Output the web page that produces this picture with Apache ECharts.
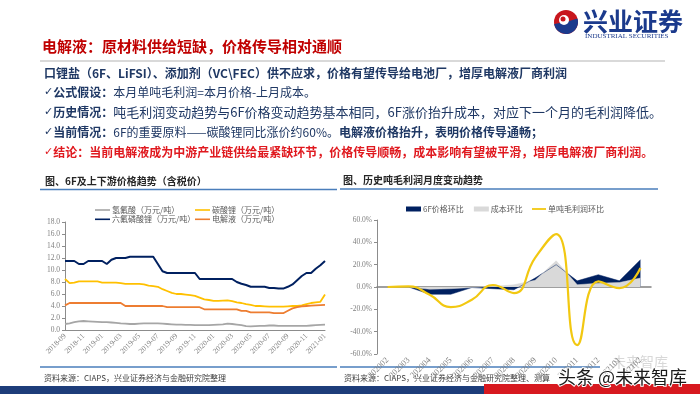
<!DOCTYPE html>
<html><head><meta charset="utf-8">
<script src="https://cdn.jsdelivr.net/npm/echarts@6/dist/echarts.min.js"></script>
<style>html,body{margin:0;padding:0;background:#fff}#c{width:700px;height:394px}</style>
</head><body><div id="c"></div>
<script>
// ---- Left chart: 6F and upstream/downstream prices (万元/吨), half-monthly ----
const priceDates = [
 '2018-09-01','2018-09-16','2018-10-01','2018-10-16','2018-11-01','2018-11-16','2018-12-01','2018-12-16',
 '2019-01-01','2019-01-16','2019-02-01','2019-02-16','2019-03-01','2019-03-16','2019-04-01','2019-04-16',
 '2019-05-01','2019-05-16','2019-06-01','2019-06-16','2019-07-01','2019-07-16','2019-08-01','2019-08-16',
 '2019-09-01','2019-09-16','2019-10-01','2019-10-16','2019-11-01','2019-11-16','2019-12-01','2019-12-16',
 '2020-01-01','2020-01-16','2020-02-01','2020-02-16','2020-03-01','2020-03-16','2020-04-01','2020-04-16',
 '2020-05-01','2020-05-16','2020-06-01','2020-06-16','2020-07-01','2020-07-16','2020-08-01','2020-08-16',
 '2020-09-01','2020-09-16','2020-10-01','2020-10-16','2020-11-01','2020-11-16','2020-12-01','2020-12-16',
 '2021-01-01'];
const hfAcid = [1.0,1.1,1.3,1.45,1.5,1.45,1.4,1.35,1.3,1.3, 1.25,1.2,1.1,1.05,1.0,1.0,1.05,1.1,1.1,1.1,
 1.1,1.05,1.0,0.95,0.9,0.9,0.85,0.85,0.8,0.8, 0.8,0.8,0.85,0.9,0.95,1.05,1.0,0.9,0.8,0.65,
 0.6,0.65,0.7,0.7,0.75,0.75,0.7,0.7,0.7,0.7, 0.7,0.7,0.7,0.75,0.8,0.85,0.9];
const lipf6 = [11.5,11.5,11.5,11.0,11.0,11.5,11.5,11.5,11.5,11.0, 11.7,12.0,12.0,12.0,12.2,12.2,12.2,12.2,12.2,12.2,
 11.0,9.8,9.5,9.5,9.5,9.5,9.5,9.5,9.5,8.5, 8.5,8.5,8.5,8.5,8.5,8.5,8.5,8.0,7.7,7.5,
 7.2,7.2,7.2,7.2,7.0,7.0,6.9,6.9,7.2,7.6, 8.3,9.0,9.5,9.5,10.2,10.8,11.5];
const li2co3 = [8.5,7.8,7.9,8.1,8.1,8.1,8.1,8.1,7.9,7.9, 7.9,7.9,7.8,7.7,7.7,7.7,7.7,7.6,7.4,7.3,
 7.2,6.8,6.5,6.2,6.0,6.0,5.9,5.8,5.7,5.4, 5.1,5.0,4.85,4.85,4.9,4.95,4.8,4.6,4.5,4.3,
 4.2,4.0,4.0,3.95,3.9,3.9,3.9,3.9,3.95,4.0, 4.0,4.1,4.3,4.5,4.6,4.7,5.9];
const electrolyte = [4.1,4.5,4.5,4.5,4.5,4.5,4.5,4.5,4.5,4.5, 4.5,4.5,4.5,4.0,4.0,4.0,4.0,4.0,4.0,4.0,
 4.0,4.0,3.8,3.8,3.8,3.8,3.8,3.8,3.8,3.8, 3.45,3.45,3.45,3.45,3.45,3.45,3.45,3.45,3.2,3.2,
 2.95,2.95,2.95,2.95,2.95,2.8,2.8,2.8,3.2,3.6, 3.8,3.95,4.0,4.05,4.1,4.15,4.2];
const priceAxis = {min: 0, max: 18, interval: 2};

// ---- Right chart: monthly change (%) ----
const months = ['202002','202003','202004','202005','202006','202007','202008','202009','202010','202011','202012','202101','202102'];
const pf6MoM = [0, 0, -6.5, -6.5, -0.5, -1.5, -2.5, 8, 20, 5.5, 11, 5.5, 24.5];
const costMoM = [0, 0, -2, -1.5, -0.5, 0.5, 2, 6, 23.5, 2, 3.4, 4, 8];
const profitMoM = [0, 0.6, -7, -18, -11.4, 1.8, -5.4, 26, 47.4, -52, 5, -1, 17];
const pctAxis = {min: -60, max: 60, interval: 20};

const CJK = '"Noto Sans CJK SC", sans-serif';
const SERIF = '"Liberation Serif", serif';
const NAVY = '#1f3864';
const lblStyle = {fontSize: 7.5, color: '#7f7f7f', fontFamily: SERIF};
const legText = {fontSize: 8, color: '#595959', fontFamily: CJK, lineHeight: 9, padding: [0, 0, 0, -3]};

const chart = echarts.init(document.getElementById('c'), null, {renderer: 'canvas'});

function txt(x, y, text, rich) {
  return {type: 'text', x: x, y: y, style: {text: text, rich: rich, verticalAlign: 'middle', align: 'left'}};
}
const bulletRich = {
  b: {fontFamily: CJK, fontSize: 12, fontWeight: 'bold', fill: NAVY, color: NAVY},
  n: {fontFamily: CJK, fontSize: 12, fontWeight: 'normal', fill: NAVY, color: NAVY},
  n3: {fontFamily: CJK, fontSize: 13, fontWeight: 'normal', fill: NAVY, color: NAVY},
  ck: {fontFamily: '"DejaVu Sans", sans-serif', fontSize: 11, fill: NAVY, color: NAVY},
  rk: {fontFamily: '"DejaVu Sans", sans-serif', fontSize: 11, fill: '#e0191f', color: '#e0191f'},
  r: {fontFamily: CJK, fontSize: 12, fontWeight: 'bold', fill: '#e0191f', color: '#e0191f'}
};

const option = {
  backgroundColor: '#ffffff',
  animation: false,
  grid: [
    {left: 65, top: 222, width: 260, height: 108},
    {left: 377, top: 220, width: 274, height: 134}
  ],
  xAxis: [
    {gridIndex: 0, type: 'category', data: priceDates, boundaryGap: false,
     axisLine: {lineStyle: {color: '#8c8c8c', width: 1}}, axisTick: {show: false},
     axisLabel: Object.assign({interval: 3, rotate: 45, margin: 5, formatter: v => v.slice(0, 7)}, lblStyle)},
    {gridIndex: 1, type: 'category', data: months, boundaryGap: true,
     axisLine: {onZero: true, lineStyle: {color: '#808080', width: 1.5}}, axisTick: {show: false},
     axisLabel: Object.assign({}, lblStyle, {interval: 0, rotate: 45, margin: 5, fontSize: 8.5})}
  ],
  yAxis: [
    {gridIndex: 0, type: 'value', min: priceAxis.min, max: priceAxis.max, interval: priceAxis.interval,
     axisLine: {show: true, lineStyle: {color: '#8c8c8c'}}, axisTick: {show: true, length: 3, lineStyle: {color: '#8c8c8c'}},
     splitLine: {show: false},
     axisLabel: Object.assign({margin: 5, formatter: v => v.toFixed(1)}, lblStyle)},
    {gridIndex: 1, type: 'value', min: pctAxis.min, max: pctAxis.max, interval: pctAxis.interval,
     axisLine: {show: true, lineStyle: {color: '#8c8c8c'}}, axisTick: {show: true, length: 3, lineStyle: {color: '#8c8c8c'}},
     splitLine: {show: false},
     axisLabel: Object.assign({margin: 5, formatter: v => v.toFixed(1) + '%'}, lblStyle)}
  ],
  legend: [
    {orient: 'vertical', left: 90, top: 200.5, itemGap: 0.3, itemWidth: 15, itemHeight: 1.6, icon: 'rect',
     data: ['氢氟酸（万元/吨）', '六氟磷酸锂（万元/吨）'], textStyle: legText},
    {orient: 'vertical', left: 190, top: 200.5, itemGap: 0.3, itemWidth: 15, itemHeight: 1.6, icon: 'rect',
     data: ['碳酸锂（万元/吨）', '电解液（万元/吨）'], textStyle: legText},
    {orient: 'horizontal', left: 401, top: 199.5, itemGap: 10, itemWidth: 15, itemHeight: 5, icon: 'rect',
     data: ['6F价格环比', '成本环比'], textStyle: legText},
    {orient: 'horizontal', left: 527, top: 199.5, itemWidth: 14, itemHeight: 1.8, icon: 'rect',
     data: ['单吨毛利润环比'], textStyle: legText}
  ],
  series: [
    {name: '氢氟酸（万元/吨）', type: 'line', xAxisIndex: 0, yAxisIndex: 0, data: hfAcid, symbol: 'none', showSymbol: false,
     lineStyle: {color: '#a6a6a6', width: 1.8}, itemStyle: {color: '#a6a6a6'}},
    {name: '碳酸锂（万元/吨）', type: 'line', xAxisIndex: 0, yAxisIndex: 0, data: li2co3, symbol: 'none', showSymbol: false,
     lineStyle: {color: '#ffc000', width: 1.8}, itemStyle: {color: '#ffc000'}},
    {name: '六氟磷酸锂（万元/吨）', type: 'line', xAxisIndex: 0, yAxisIndex: 0, data: lipf6, symbol: 'none', showSymbol: false,
     lineStyle: {color: '#002060', width: 2}, itemStyle: {color: '#002060'}},
    {name: '电解液（万元/吨）', type: 'line', xAxisIndex: 0, yAxisIndex: 0, data: electrolyte, symbol: 'none', showSymbol: false,
     lineStyle: {color: '#ed7d31', width: 1.8}, itemStyle: {color: '#ed7d31'}},
    {name: '6F价格环比', type: 'line', xAxisIndex: 1, yAxisIndex: 1, data: pf6MoM, symbol: 'none', showSymbol: false,
     lineStyle: {color: '#002060', width: 0.5}, itemStyle: {color: '#002060'}, areaStyle: {color: '#002060', opacity: 1}},
    {name: '成本环比', type: 'line', xAxisIndex: 1, yAxisIndex: 1, data: costMoM, symbol: 'none', showSymbol: false,
     lineStyle: {color: '#d9d9d9', width: 0.5}, itemStyle: {color: '#d9d9d9'}, areaStyle: {color: '#d9d9d9', opacity: 1}},
    {name: '单吨毛利润环比', type: 'line', xAxisIndex: 1, yAxisIndex: 1, data: profitMoM, symbol: 'none', showSymbol: false,
     smooth: 0.5, lineStyle: {color: '#f2c811', width: 2.2}, itemStyle: {color: '#f2c811'}, z: 5}
  ],
  graphic: [
    // logo
    {type: 'circle', shape: {cx: 566, cy: 22, r: 12}, style: {fill: '#c8161d'}},
    {type: 'sector', shape: {cx: 566, cy: 22, r: 12, r0: 0, startAngle: -0.3, endAngle: Math.PI * 0.95}, style: {fill: '#1b3a8c'}},
    {type: 'circle', shape: {cx: 564, cy: 20, r: 5}, style: {fill: '#ffffff'}},
    {type: 'circle', shape: {cx: 563, cy: 19, r: 2.5}, style: {fill: '#c8161d'}},
    {type: 'text', x: 583, y: 21, style: {text: '兴业证券', verticalAlign: 'middle',
      font: 'bold 25px "Noto Sans CJK SC"', fill: '#1b3a8c'}},
    {type: 'text', x: 585, y: 36, style: {text: 'INDUSTRIAL SECURITIES', verticalAlign: 'middle',
      font: '7px "Liberation Serif"', fill: '#1b3a8c'}},
    // title
    {type: 'text', x: 42, y: 46, style: {text: '电解液：原材料供给短缺，价格传导相对通顺', verticalAlign: 'middle',
      font: 'bold 15px "Noto Sans CJK SC"', fill: '#c00000'}},
    {type: 'line', shape: {x1: 40, y1: 61, x2: 665, y2: 61}, style: {stroke: '#d9d9d9', lineWidth: 2}},
    // bullets
    txt(44, 73, '{b|口锂盐（6F、LiFSI）、添加剂（VC\\FEC）供不应求，价格有望传导给电池厂，增厚电解液厂商利润}', bulletRich),
    txt(44, 92, '{ck|✓}{b|公式假设：}{n|本月单吨毛利润=本月价格-上月成本。}', bulletRich),
    txt(44, 112, '{ck|✓}{b|历史情况：}{n3|吨毛利润变动趋势与6F价格变动趋势基本相同，6F涨价抬升成本，对应下一个月的毛利润降低。}', bulletRich),
    txt(44, 132, '{ck|✓}{b|当前情况：}{n|6F的重要原料——碳酸锂同比涨价约60%。}{b|电解液价格抬升，表明价格传导通畅；}', bulletRich),
    txt(44, 152, '{rk|✓}{r|结论：当前电解液成为中游产业链供给最紧缺环节，价格传导顺畅，成本影响有望被平滑，增厚电解液厂商利润。}', bulletRich),
    // chart headers
    {type: 'text', x: 45, y: 181, style: {text: '图、6F及上下游价格趋势（含税价）', verticalAlign: 'middle',
      font: 'bold 10px "Noto Sans CJK SC"', fill: '#262626'}},
    {type: 'line', shape: {x1: 40, y1: 189.5, x2: 337, y2: 189.5}, style: {stroke: '#4a7ebb', lineWidth: 1.5}},
    {type: 'text', x: 343, y: 180, style: {text: '图、历史吨毛利润月度变动趋势', verticalAlign: 'middle',
      font: 'bold 10px "Noto Sans CJK SC"', fill: '#262626'}},
    {type: 'line', shape: {x1: 340, y1: 189, x2: 658, y2: 189}, style: {stroke: '#4a7ebb', lineWidth: 1.5}},
    // sources
    {type: 'line', shape: {x1: 40, y1: 367, x2: 337, y2: 367}, style: {stroke: '#4a7ebb', lineWidth: 1.5}},
    {type: 'line', shape: {x1: 340, y1: 367, x2: 600, y2: 367}, style: {stroke: '#4a7ebb', lineWidth: 1.5}},
    {type: 'text', x: 44, y: 378, style: {text: '资料来源：CIAPS，兴业证券经济与金融研究院整理', verticalAlign: 'middle',
      font: '8px "Noto Sans CJK SC"', fill: '#404040'}},
    {type: 'text', x: 344, y: 378, style: {text: '资料来源：CIAPS，兴业证券经济与金融研究院整理、测算', verticalAlign: 'middle',
      font: '8px "Noto Sans CJK SC"', fill: '#404040'}},
    // bottom band
    {type: 'rect', shape: {x: 0, y: 386, width: 700, height: 8}, style: {fill: '#1d3d7a'}},
    {type: 'rect', shape: {x: 484, y: 384, width: 216, height: 10}, style: {fill: '#d7191f'}},
    // watermark
    {type: 'text', x: 612, y: 362, style: {text: '未来智库', verticalAlign: 'middle',
      font: '14px "Noto Sans CJK SC"', fill: '#d8d8d8'}},
    {type: 'text', x: 558, y: 377, z: 100, style: {text: '头条 @未来智库', verticalAlign: 'middle',
      font: '18px "Noto Sans CJK SC"', fill: '#1a1a1a', stroke: '#ffffff', lineWidth: 2}}
  ]
};
chart.setOption(option);
</script></body></html>
